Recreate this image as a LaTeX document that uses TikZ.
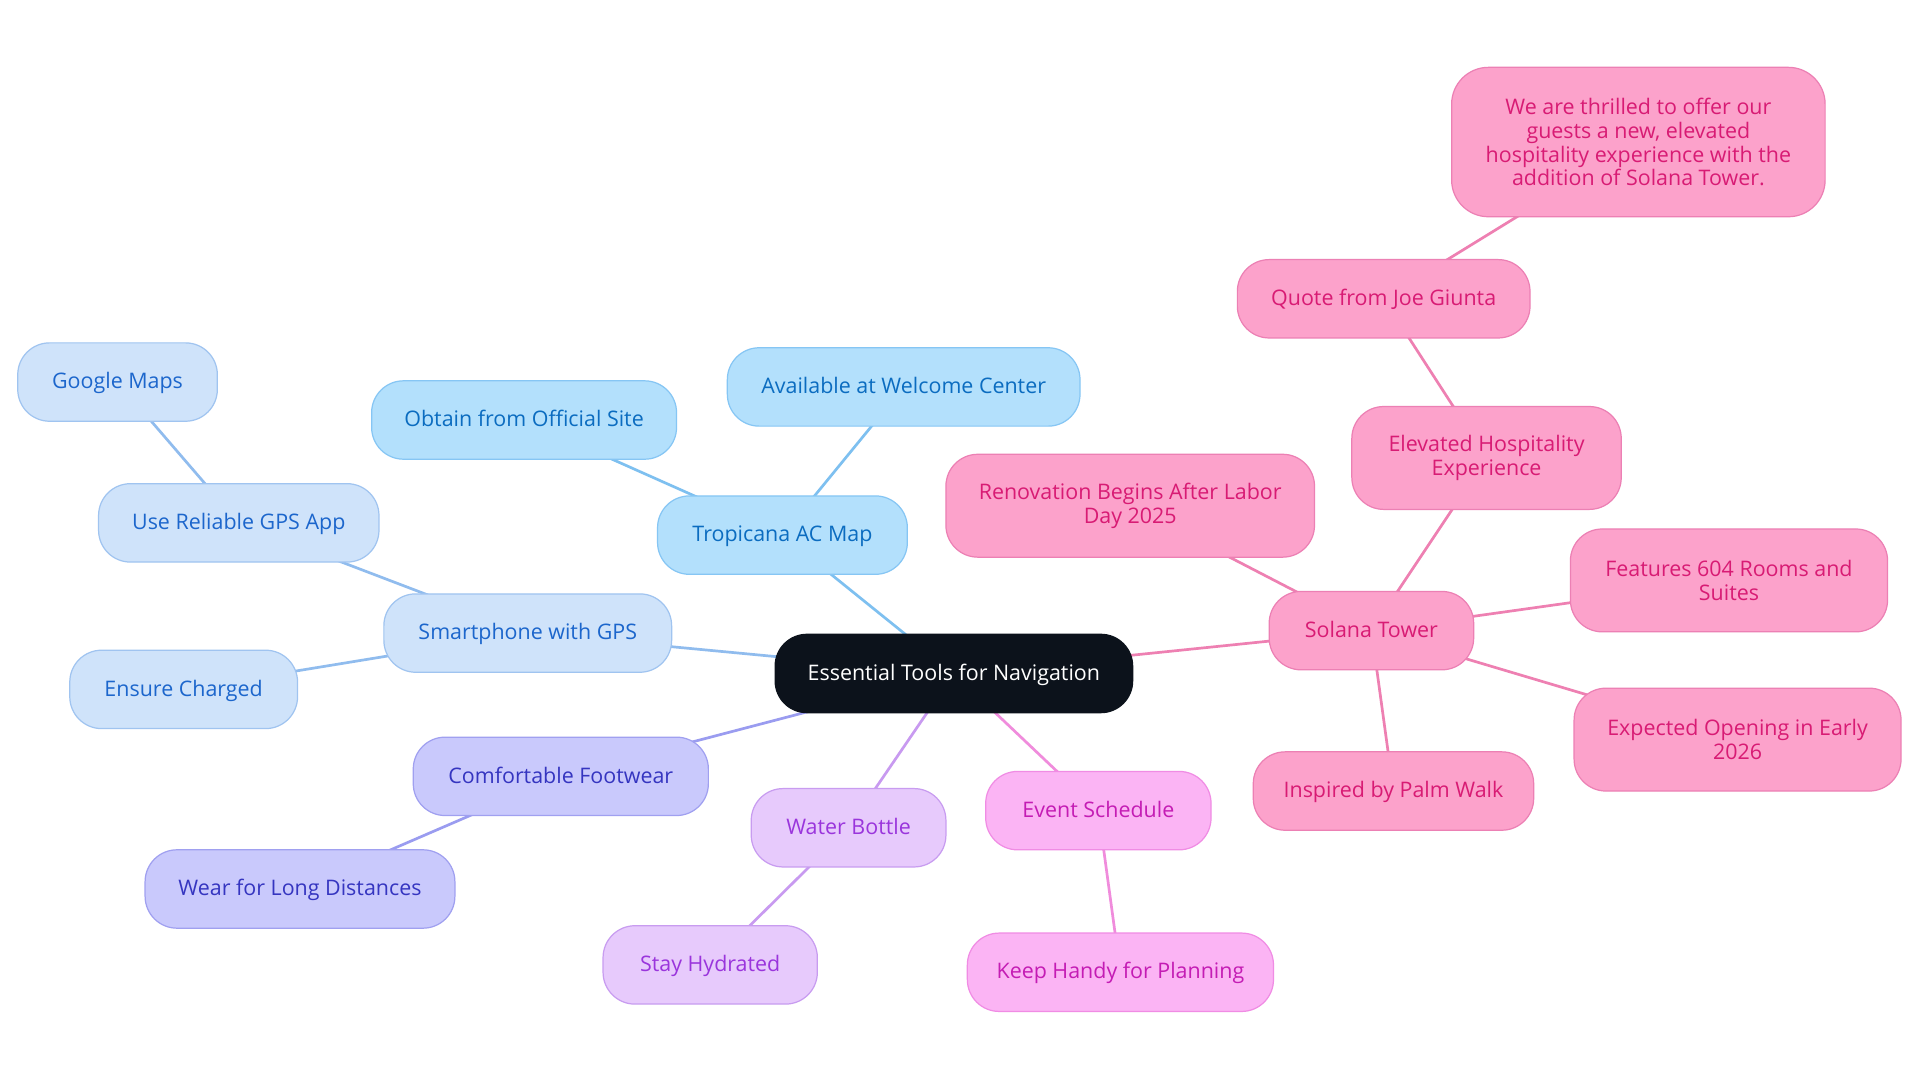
\documentclass[tikz,border=0pt]{standalone}
\usepackage{fontspec}
\setmainfont{Open Sans}
\pgfdeclarelayer{paper}
\pgfdeclarelayer{edges}
\pgfsetlayers{paper,edges,main}
\definecolor{rootc}{HTML}{0C121B}
\definecolor{trofill}{HTML}{B3E0FC}
\definecolor{troline}{HTML}{86C6F4}
\definecolor{trotext}{HTML}{0B6CC0}
\definecolor{troedge}{HTML}{7EC0F0}
\definecolor{smfill}{HTML}{CFE3FA}
\definecolor{smline}{HTML}{A0C4F0}
\definecolor{smtext}{HTML}{1C66CC}
\definecolor{smedge}{HTML}{90BCEE}
\definecolor{ftfill}{HTML}{C9C9FC}
\definecolor{ftline}{HTML}{A0A0F0}
\definecolor{fttext}{HTML}{3535C0}
\definecolor{ftedge}{HTML}{9A9CF0}
\definecolor{wbfill}{HTML}{E7CAFC}
\definecolor{wbline}{HTML}{C89CF0}
\definecolor{wbtext}{HTML}{9A35DC}
\definecolor{wbedge}{HTML}{C89AF0}
\definecolor{evfill}{HTML}{FBB4F4}
\definecolor{evline}{HTML}{F08CE4}
\definecolor{evtext}{HTML}{C41CB4}
\definecolor{evedge}{HTML}{F08CDC}
\definecolor{sofill}{HTML}{FCA2CB}
\definecolor{soline}{HTML}{EC80B4}
\definecolor{sotext}{HTML}{D81B74}
\definecolor{soedge}{HTML}{EE80B2}
\tikzset{
  box/.style={rectangle, rounded corners=26pt, draw, line width=1pt, minimum height=64pt,
    inner sep=0pt, align=center, font=\fontsize{17.5}{19.5}\selectfont},
  sl/.style={text height=14pt, text depth=3pt},
  rootbox/.style={box, fill=rootc, draw=rootc, text=white},
  trobox/.style={box, fill=trofill, draw=troline, text=trotext},
  smbox/.style={box, fill=smfill, draw=smline, text=smtext},
  ftbox/.style={box, fill=ftfill, draw=ftline, text=fttext},
  wbbox/.style={box, fill=wbfill, draw=wbline, text=wbtext},
  evbox/.style={box, fill=evfill, draw=evline, text=evtext},
  sobox/.style={box, fill=sofill, draw=soline, text=sotext},
  link/.style={line width=2.2pt},
}
\begin{document}
\begin{tikzpicture}[x=1pt,y=-1pt]
\begin{pgfonlayer}{paper}
\fill[white] (0,0) rectangle (1568,884);
\end{pgfonlayer}
\useasboundingbox (0,0) rectangle (1568,884);
\node[rootbox, sl, minimum width=292pt] (root) at (779,550) {Essential Tools for Navigation};
\node[trobox, sl, minimum width=204pt] (tro) at (639,437) {Tropicana AC Map};
\node[trobox, sl, minimum width=249pt] (obtain) at (428,343) {Obtain from Official Site};
\node[trobox, sl, minimum width=288pt] (avail) at (738,316) {Available at Welcome Center};
\node[smbox, sl, minimum width=235pt] (smart) at (431,517) {Smartphone with GPS};
\node[smbox, sl, minimum width=229pt] (usegps) at (195,427) {Use Reliable GPS App};
\node[smbox, sl, minimum width=163pt] (google) at (96,312) {Google Maps};
\node[smbox, sl, minimum width=186pt] (ensure) at (150,563) {Ensure Charged};
\node[ftbox, sl, minimum width=241pt] (foot) at (458,634) {Comfortable Footwear};
\node[ftbox, sl, minimum width=253pt] (wear) at (245,726) {Wear for Long Distances};
\node[wbbox, sl, minimum width=159pt] (water) at (693,676) {Water Bottle};
\node[wbbox, sl, minimum width=175pt] (stay) at (580,788) {Stay Hydrated};
\node[evbox, sl, minimum width=184pt] (event) at (897,662) {Event Schedule};
\node[evbox, sl, minimum width=250pt] (keep) at (915,794) {Keep Handy for Planning};
\node[sobox, sl, minimum width=167pt] (solana) at (1120,515) {Solana Tower};
\node[sobox, minimum width=301pt, minimum height=84pt] (renov) at (923,413) {Renovation Begins After Labor\\Day 2025};
\node[sobox, minimum width=220pt, minimum height=84pt] (elev) at (1214,374) {Elevated Hospitality\\Experience};
\node[sobox, sl, minimum width=239pt] (joe) at (1130,244) {Quote from Joe Giunta};
\node[sobox, minimum width=305pt, minimum height=122pt, rounded corners=30pt] (quote) at (1338,116) {We are thrilled to offer our\\guests a new, elevated\\hospitality experience with the\\addition of Solana Tower.};
\node[sobox, minimum width=259pt, minimum height=84pt] (features) at (1412,474) {Features 604 Rooms and\\Suites};
\node[sobox, minimum width=267pt, minimum height=84pt] (expected) at (1419,604) {Expected Opening in Early\\2026};
\node[sobox, sl, minimum width=229pt] (inspired) at (1138,646) {Inspired by Palm Walk};
\begin{pgfonlayer}{edges}
\draw[link, troedge] (root.center) -- (tro.center);
\draw[link, troedge] (tro.center) -- (obtain.center);
\draw[link, troedge] (tro.center) -- (avail.center);
\draw[link, smedge] (root.center) -- (smart.center);
\draw[link, smedge] (smart.center) -- (usegps.center);
\draw[link, smedge] (usegps.center) -- (google.center);
\draw[link, smedge] (smart.center) -- (ensure.center);
\draw[link, ftedge] (root.center) -- (foot.center);
\draw[link, ftedge] (foot.center) -- (wear.center);
\draw[link, wbedge] (root.center) -- (water.center);
\draw[link, wbedge] (water.center) -- (stay.center);
\draw[link, evedge] (root.center) -- (event.center);
\draw[link, evedge] (event.center) -- (keep.center);
\draw[link, soedge] (root.center) -- (solana.center);
\draw[link, soedge] (solana.center) -- (renov.center);
\draw[link, soedge] (solana.center) -- (elev.center);
\draw[link, soedge] (elev.center) -- (joe.center);
\draw[link, soedge] (joe.center) -- (quote.center);
\draw[link, soedge] (solana.center) -- (features.center);
\draw[link, soedge] (solana.center) -- (expected.center);
\draw[link, soedge] (solana.center) -- (inspired.center);
\end{pgfonlayer}
\end{tikzpicture}
\end{document}
